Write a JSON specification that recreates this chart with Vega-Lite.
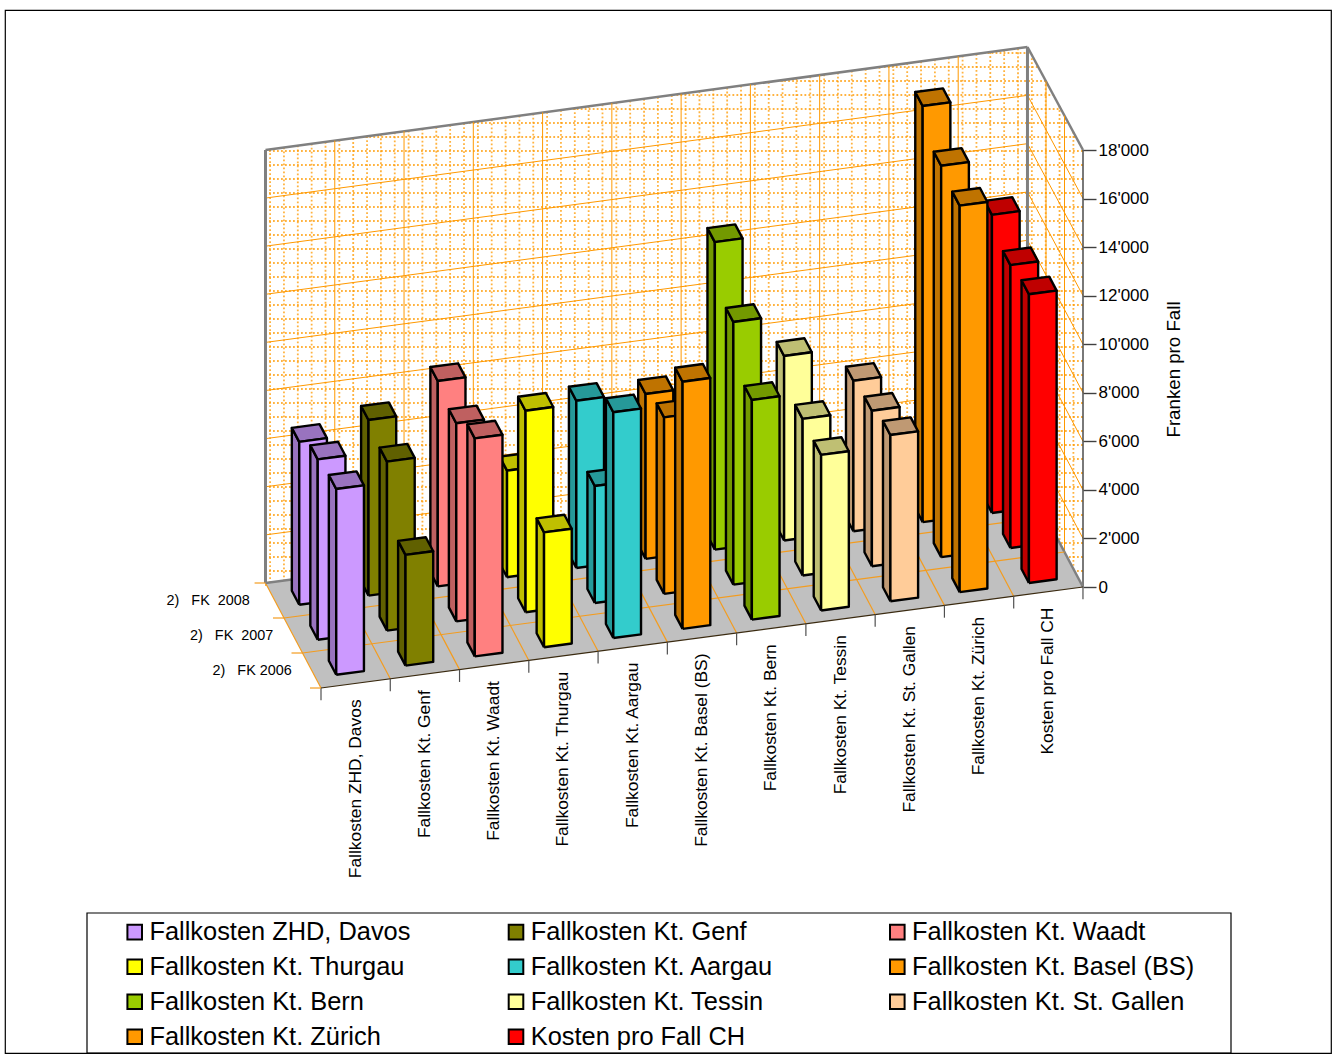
{
"$schema":"https://vega.github.io/schema/vega-lite/v6.json",
"width":1326,"height":1043,
"padding":{"left":5,"top":10,"right":6,"bottom":7},
"autosize":{"type":"none"},
"background":"white",
"config":{"view":{"stroke":"black","strokeWidth":1.2},"font":"Liberation Sans"},
"datasets":{
"bars":[
{"series":"Fallkosten ZHD, Davos","year":2008,"value":6710},
{"series":"Fallkosten Kt. Genf","year":2008,"value":7230},
{"series":"Fallkosten Kt. Waadt","year":2008,"value":8460},
{"series":"Fallkosten Kt. Thurgau","year":2008,"value":4390},
{"series":"Fallkosten Kt. Aargau","year":2008,"value":6890},
{"series":"Fallkosten Kt. Basel (BS)","year":2008,"value":6790},
{"series":"Fallkosten Kt. Bern","year":2008,"value":12670},
{"series":"Fallkosten Kt. Tessin","year":2008,"value":7600},
{"series":"Fallkosten Kt. St. Gallen","year":2008,"value":6200},
{"series":"Fallkosten Kt. Zürich","year":2008,"value":17140},
{"series":"Kosten pro Fall CH","year":2008,"value":12280},
{"series":"Fallkosten ZHD, Davos","year":2007,"value":7430},
{"series":"Fallkosten Kt. Genf","year":2007,"value":6960},
{"series":"Fallkosten Kt. Waadt","year":2007,"value":8160},
{"series":"Fallkosten Kt. Thurgau","year":2007,"value":8300},
{"series":"Fallkosten Kt. Aargau","year":2007,"value":4820},
{"series":"Fallkosten Kt. Basel (BS)","year":2007,"value":7270},
{"series":"Fallkosten Kt. Bern","year":2007,"value":10820},
{"series":"Fallkosten Kt. Tessin","year":2007,"value":6450},
{"series":"Fallkosten Kt. St. Gallen","year":2007,"value":6410},
{"series":"Fallkosten Kt. Zürich","year":2007,"value":16120},
{"series":"Kosten pro Fall CH","year":2007,"value":11650},
{"series":"Fallkosten ZHD, Davos","year":2006,"value":7650},
{"series":"Fallkosten Kt. Genf","year":2006,"value":4560},
{"series":"Fallkosten Kt. Waadt","year":2006,"value":8980},
{"series":"Fallkosten Kt. Thurgau","year":2006,"value":4730},
{"series":"Fallkosten Kt. Aargau","year":2006,"value":9300},
{"series":"Fallkosten Kt. Basel (BS)","year":2006,"value":10180},
{"series":"Fallkosten Kt. Bern","year":2006,"value":9050},
{"series":"Fallkosten Kt. Tessin","year":2006,"value":6410},
{"series":"Fallkosten Kt. St. Gallen","year":2006,"value":6850},
{"series":"Fallkosten Kt. Zürich","year":2006,"value":15920},
{"series":"Kosten pro Fall CH","year":2006,"value":11890}
],
"ticks":[{"h":2000},{"h":4000},{"h":6000},{"h":8000},{"h":10000},{"h":12000},{"h":14000},{"h":16000},{"h":18000}],
"bounds":[{"c":0},{"c":1},{"c":2},{"c":3},{"c":4},{"c":5},{"c":6},{"c":7},{"c":8},{"c":9},{"c":10},{"c":11}],
"depths":[{"d":0},{"d":1},{"d":2},{"d":3}],
"cats":[{"c":0,"name":"Fallkosten ZHD, Davos"},{"c":1,"name":"Fallkosten Kt. Genf"},{"c":2,"name":"Fallkosten Kt. Waadt"},{"c":3,"name":"Fallkosten Kt. Thurgau"},{"c":4,"name":"Fallkosten Kt. Aargau"},{"c":5,"name":"Fallkosten Kt. Basel (BS)"},{"c":6,"name":"Fallkosten Kt. Bern"},{"c":7,"name":"Fallkosten Kt. Tessin"},{"c":8,"name":"Fallkosten Kt. St. Gallen"},{"c":9,"name":"Fallkosten Kt. Zürich"},{"c":10,"name":"Kosten pro Fall CH"}],
"years":[{"d":0,"label":"2)\u00a0\u00a0\u00a0FK\u00a02006"},{"d":1,"label":"2)\u00a0\u00a0\u00a0FK\u00a0\u00a02007"},{"d":2,"label":"2)\u00a0\u00a0\u00a0FK\u00a0\u00a02008"}],
"floor":[{"i":0,"u":0,"v":0},{"i":1,"u":11,"v":0},{"i":2,"u":11,"v":3},{"i":3,"u":0,"v":3},{"i":4,"u":0,"v":0}]
},
"encoding":{
"x":{"field":"x","type":"quantitative","scale":{"domain":[5,1331],"nice":false,"zero":false},"axis":null},
"y":{"field":"y","type":"quantitative","scale":{"domain":[-19194.5,23766.6],"nice":false,"zero":false},
"axis":{"orient":"right","offset":-248,"values":[0,2000,4000,6000,8000,10000,12000,14000,16000,18000],"grid":false,"domain":false,"tickColor":"#404040","tickWidth":1.4,"tickSize":13,"labelPadding":2,"labelFont":"Liberation Sans","labelFontSize":17,"labelColor":"black","labelExpr":"replace(format(datum.value,','),',',\"'\")","title":"Franken pro Fall","titleFont":"Liberation Sans","titleFontSize":18.7,"titleFontWeight":"normal","titleColor":"black","titleAngle":270,"titleX":90,"titleY":359,"titleAlign":"center","titleBaseline":"middle"}}
},
"layer":[
{"data":{"values":[{"n":[0,1,2,3,4,5,6,7,8,9,10,11,12,13,14,15,16,17,18,19,20,21,22,23,24,25,26,27,28,29,30,31,32,33,34,35,36,37,38,39,40,41,42,43,44,45,46,47,48,49,50,51,52,53,54,55,56,57,58]}]},
"transform":[{"flatten":["n"]},{"calculate":"270.1+13.85*datum.n","as":"x"},
{"calculate":"(587-(datum.x<=1028?150-(datum.x-265)*0.135:47+(datum.x-1028)*1.873))*41.19","as":"y"},
{"calculate":"(587-(datum.x<=1028?583-(datum.x-265)*0.1324:482+(datum.x-1028)*1.909))*41.19","as":"y2"}],
"mark":{"type":"rule","stroke":"#FF9900","strokeWidth":1.8,"strokeDash":[1.8,2.2],"opacity":0.75},
"encoding":{"y2":{"field":"y2"}}},
{"data":{"values":[{"n":[-7,-6,-5,-4,-3,-2,-1,0,1,2,3,4,5,6,7,8,9,10,11,12,13,14,15,16,17,18,19,20,21,22,23,24,25,26,27,28,29,30,31]}]},
"transform":[{"flatten":["n"]},{"calculate":"151+14*datum.n","as":"py"},
{"calculate":"(587-datum.py)*41.19","as":"y"},
{"calculate":"datum.py<150?265+(150-datum.py)*7.408:265","as":"x"},
{"calculate":"datum.py<150?1028+(datum.py-47)*0.534:1083","as":"x2"}],
"mark":{"type":"rule","stroke":"#FF9900","strokeWidth":1.8,"strokeDash":[1.8,2.2],"opacity":0.75},
"encoding":{"x2":{"field":"x2"}}},
{"data":{"name":"ticks"},
"transform":[{"calculate":"265.5","as":"x"},{"calculate":"1027.5","as":"x2"},{"calculate":"datum.h*0.991+164.8","as":"y"},{"calculate":"datum.h*0.9954+4325","as":"y2"}],
"mark":{"type":"rule"},
"encoding":{"x2":{"field":"x2"},"y2":{"field":"y2"},
"stroke":{"condition":{"test":"datum.h==18000","value":"#808080"},"value":"#FF9900"},
"strokeWidth":{"condition":{"test":"datum.h==18000","value":2.5},"value":1}}},
{"data":{"name":"ticks"},
"transform":[{"calculate":"1027.5","as":"x"},{"calculate":"1083","as":"x2"},{"calculate":"datum.h*0.9954+4325","as":"y"},{"calculate":"datum.h","as":"y2"}],
"mark":{"type":"rule"},
"encoding":{"x2":{"field":"x2"},"y2":{"field":"y2"},
"stroke":{"condition":{"test":"datum.h==18000","value":"#808080"},"value":"#FF9900"},
"strokeWidth":{"condition":{"test":"datum.h==18000","value":2.5},"value":1}}},
{"data":{"name":"bounds"},
"transform":[{"calculate":"265.5+69.27*datum.c","as":"x"},{"calculate":"(4+9.18*datum.c)*41.19","as":"y"},{"calculate":"datum.y+18000*(0.991+0.00040*datum.c)","as":"y2"}],
"mark":{"type":"rule"},
"encoding":{"y2":{"field":"y2"},
"stroke":{"condition":{"test":"datum.c==0||datum.c==11","value":"#808080"},"value":"#FF9900"},
"strokeWidth":{"condition":{"test":"datum.c==0||datum.c==11","value":3},"value":1}}},
{"data":{"name":"depths"},
"transform":[{"calculate":"1083-18.5*datum.d","as":"x"},{"calculate":"35*datum.d*41.19","as":"y"},{"calculate":"datum.y+18000*(1-0.0015*datum.d)","as":"y2"}],
"mark":{"type":"rule"},
"encoding":{"y2":{"field":"y2"},
"stroke":{"condition":{"test":"datum.d==0","value":"#404040"},"value":"#FF9900"},
"strokeWidth":{"condition":{"test":"datum.d==0","value":1.4},"value":1},
"opacity":{"condition":{"test":"datum.d==3","value":0},"value":1}}},
{"data":{"name":"floor"},
"transform":[{"calculate":"321+69.27*datum.u-18.5*datum.v","as":"x"},{"calculate":"(-101+9.18*datum.u+35*datum.v)*41.19","as":"y"}],
"mark":{"type":"line","fill":"#C0C0C0","stroke":null,"interpolate":"linear"},
"encoding":{"order":{"field":"i"}}},
{"data":{"name":"bounds"},
"transform":[{"calculate":"321+69.27*datum.c","as":"x"},{"calculate":"datum.x-55.5","as":"x2"},{"calculate":"(-101+9.18*datum.c)*41.19","as":"y"},{"calculate":"datum.y+4325","as":"y2"}],
"mark":{"type":"rule"},
"encoding":{"x2":{"field":"x2"},"y2":{"field":"y2"},
"stroke":{"condition":{"test":"datum.c==11","value":"#808080"},"value":"#F39C1F"},
"strokeWidth":{"condition":{"test":"datum.c==11","value":2.5},"value":1.2}}},
{"data":{"name":"depths"},
"transform":[{"calculate":"321-18.5*datum.d","as":"x"},{"calculate":"datum.x+762","as":"x2"},{"calculate":"(-101+35*datum.d)*41.19","as":"y"},{"calculate":"35*datum.d*41.19","as":"y2"}],
"mark":{"type":"rule"},
"encoding":{"x2":{"field":"x2"},"y2":{"field":"y2"},
"stroke":{"condition":[{"test":"datum.d==3","value":"#808080"},{"test":"datum.d==0","value":"#3A2A10"}],"value":"#F39C1F"},
"strokeWidth":{"condition":{"test":"datum.d==3","value":2.5},"value":1.2}}},
{"data":{"name":"bounds"},
"transform":[{"calculate":"321+69.27*datum.c","as":"x"},{"calculate":"(-101+9.18*datum.c)*41.19","as":"y"},{"calculate":"datum.y-507","as":"y2"}],
"mark":{"type":"rule","stroke":"#505050","strokeWidth":1.2},
"encoding":{"y2":{"field":"y2"}}},
{"data":{"name":"depths"},
"transform":[{"calculate":"321-18.5*datum.d","as":"x"},{"calculate":"datum.x-11","as":"x2"},{"calculate":"(-101+35*datum.d)*41.19","as":"y"}],
"mark":{"type":"rule","stroke":"#F39C1F","strokeWidth":1.2},
"encoding":{"x2":{"field":"x2"}}},
{"data":{"name":"bars"},
"transform":[
{"calculate":"indexof(['Fallkosten ZHD, Davos','Fallkosten Kt. Genf','Fallkosten Kt. Waadt','Fallkosten Kt. Thurgau','Fallkosten Kt. Aargau','Fallkosten Kt. Basel (BS)','Fallkosten Kt. Bern','Fallkosten Kt. Tessin','Fallkosten Kt. St. Gallen','Fallkosten Kt. Zürich','Kosten pro Fall CH'],datum.series)","as":"c"},
{"calculate":"datum.year-2006","as":"k"},
{"calculate":"[0,1,2]","as":"face"},{"flatten":["face"]},
{"calculate":"[0,1,2,3,4]","as":"i"},{"flatten":["i"]},
{"calculate":"datum.c+0.3+0.4*[[0,0,0,0,0],[0,1,1,0,0],[0,1,1,0,0]][datum.face][datum.i]","as":"u"},
{"calculate":"datum.k+0.3+0.4*[[0,1,1,0,0],[0,0,1,1,0],[0,0,0,0,0]][datum.face][datum.i]","as":"v"},
{"calculate":"datum.value*[[0,0,1,1,0],[1,1,1,1,1],[0,0,1,1,0]][datum.face][datum.i]","as":"h"},
{"calculate":"321+69.27*datum.u-18.5*datum.v","as":"x"},
{"calculate":"datum.h+(-101+9.18*datum.u+35*datum.v)*41.19","as":"y"},
{"calculate":"datum.series+(datum.face==2?'':' dunkel')","as":"tone"},
{"calculate":"(2-datum.k)*100+datum.c*10+datum.face","as":"poly"}],
"mark":{"type":"line","stroke":"black","strokeWidth":2.4,"strokeJoin":"round","interpolate":"linear"},
"encoding":{"order":{"field":"i"},"detail":{"field":"poly"},
"fill":{"field":"tone","type":"nominal","legend":null,"scale":{
"domain":["Fallkosten ZHD, Davos","Fallkosten ZHD, Davos dunkel","Fallkosten Kt. Genf","Fallkosten Kt. Genf dunkel","Fallkosten Kt. Waadt","Fallkosten Kt. Waadt dunkel","Fallkosten Kt. Thurgau","Fallkosten Kt. Thurgau dunkel","Fallkosten Kt. Aargau","Fallkosten Kt. Aargau dunkel","Fallkosten Kt. Basel (BS)","Fallkosten Kt. Basel (BS) dunkel","Fallkosten Kt. Bern","Fallkosten Kt. Bern dunkel","Fallkosten Kt. Tessin","Fallkosten Kt. Tessin dunkel","Fallkosten Kt. St. Gallen","Fallkosten Kt. St. Gallen dunkel","Fallkosten Kt. Zürich","Fallkosten Kt. Zürich dunkel","Kosten pro Fall CH","Kosten pro Fall CH dunkel"],
"range":["#CC99FF","#9973BF","#808000","#606000","#FF8080","#BF6060","#FFFF00","#BFBF00","#33CCCC","#269999","#FF9900","#BF7300","#99CC00","#739900","#FFFF99","#BFBF73","#FFCC99","#BF9973","#FF9900","#BF7300","#FF0000","#BF0000"]}}}},
{"data":{"name":"cats"},
"transform":[{"calculate":"321+69.27*(datum.c+0.5)","as":"x"},{"calculate":"(-101+9.18*(datum.c+0.5)-16)*41.19","as":"y"}],
"mark":{"type":"text","angle":270,"align":"right","baseline":"middle","font":"Liberation Sans","fontSize":17.4,"color":"black"},
"encoding":{"text":{"field":"name"}}},
{"data":{"name":"years"},
"transform":[{"calculate":"321-18.5*(datum.d+0.5)-20-(datum.d==2?5:0)","as":"x"},{"calculate":"(-101+35*(datum.d+0.5))*41.19","as":"y"}],
"mark":{"type":"text","align":"right","baseline":"middle","font":"Liberation Sans","fontSize":14.4,"color":"black"},
"encoding":{"text":{"field":"label"}}},
{"data":{"values":[{"box":"Legende"}]},
"transform":[{"calculate":"87","as":"x"},{"calculate":"1231","as":"x2"},{"calculate":"(587-913)*41.19","as":"y"},{"calculate":"(587-1053)*41.19","as":"y2"}],
"mark":{"type":"rect","fill":null,"stroke":"black","strokeWidth":1.2},
"encoding":{"x2":{"field":"x2"},"y2":{"field":"y2"}}},
{"data":{"name":"bars"},
"transform":[{"calculate":"600","as":"x"},{"calculate":"0","as":"y"}],
"mark":{"type":"point","filled":true,"opacity":0,"size":1},
"encoding":{"color":{"field":"series","type":"nominal","scale":{
"domain":["Fallkosten ZHD, Davos","Fallkosten Kt. Thurgau","Fallkosten Kt. Bern","Fallkosten Kt. Zürich","Fallkosten Kt. Genf","Fallkosten Kt. Aargau","Fallkosten Kt. Tessin","Kosten pro Fall CH","Fallkosten Kt. Waadt","Fallkosten Kt. Basel (BS)","Fallkosten Kt. St. Gallen"],
"range":["#CC99FF","#FFFF00","#99CC00","#FF9900","#808000","#33CCCC","#FFFF99","#FF0000","#FF8080","#FF9900","#FFCC99"]},
"legend":{"orient":"none","legendX":82,"legendY":904,"title":null,"columns":3,"symbolType":"square","symbolSize":213,"symbolStrokeColor":"black","symbolStrokeWidth":2,"symbolOpacity":1,"symbolFillColor":null,"labelFont":"Liberation Sans","labelFontSize":25.4,"labelColor":"black","labelLimit":500,"labelOffset":2,"padding":5,"rowPadding":8,"columnPadding":41.3,"symbolOffset":30,"gridAlign":"all"}}}}
]
}
